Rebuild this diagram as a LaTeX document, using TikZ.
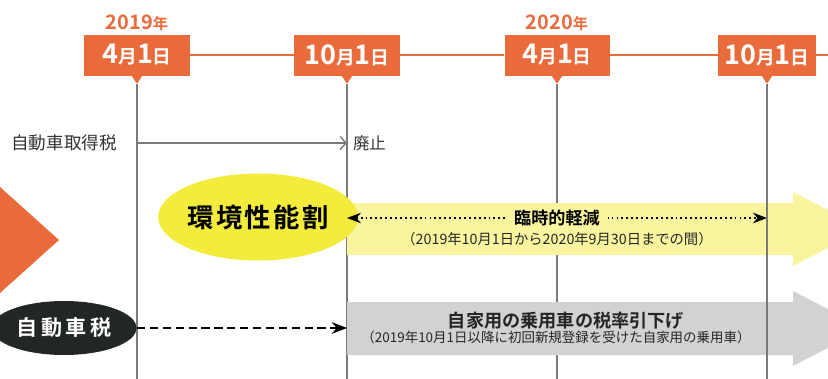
\documentclass[tikz,border=0pt]{standalone}
\usepackage{fontspec}
\setmainfont{Noto Sans CJK JP}[BoldFont={Noto Sans CJK JP Bold}]
\usepackage{xcolor}
\definecolor{taxorange}{HTML}{E96B3C}
\definecolor{ovalyellow}{HTML}{F3EC3C}
\definecolor{bandyellow}{HTML}{F9F59E}
\definecolor{bandgray}{HTML}{D2D2D2}
\definecolor{ovalblack}{HTML}{222726}
\definecolor{linegray}{HTML}{7A7A7A}
\usetikzlibrary{arrows.meta,shapes.geometric,positioning}

\newcommand{\fs}[1]{\fontsize{#1}{#1}\selectfont}
\newcommand{\mday}[2]{#1{\fs{16}月}#2{\fs{16}日}}

\begin{document}
\begin{tikzpicture}[
        x=0.03cm, y=-0.03cm,
        datebox/.style={rectangle, fill=taxorange, text=white, font=\bfseries\fs{23}, minimum width=3.15cm, minimum height=1.23cm, inner sep=0pt},
        yearlabel/.style={text=taxorange, font=\bfseries\fs{17}, inner sep=1pt},
        vline/.style={draw=linegray, line width=0.9pt},
        plain/.style={text=black!80, font=\fs{15}, inner sep=1pt},
        oval/.style={ellipse, inner sep=0pt, minimum width=5.19cm, minimum height=2.61cm},
        subnote/.style={text=black!85, font=\fs{12.2}, inner sep=1pt}
    ]
        \useasboundingbox (0,0) rectangle (828,378);
        \clip (0,0) rectangle (828,378);

        % timeline
        \node[datebox] (d1) at (137,55) {\mday{4}{1}};
        \node[datebox] (d2) at (347,55) {\mday{10}{1}};
        \node[datebox] (d3) at (557,55) {\mday{4}{1}};
        \node[datebox, minimum width=2.94cm] (d4) at (767,55) {\mday{10}{1}};
        \coordinate (lineend) at (830,55);
        \node[yearlabel, above=2pt of d1] (y1) {2019{\fs{13}年}};
        \node[yearlabel, above=2pt of d3] (y3) {2020{\fs{13}年}};

        \foreach \d in {d1,d2,d3,d4} {
            \fill[taxorange] (\d.south) ++(-6,-1) -- ++(12,0) -- ++(-6,9) -- cycle;
            \draw[vline] (\d.south) ++(0,8) -- ++(0,300);
        }

        % left marker
        \fill[taxorange] (0,187) -- (59,240) -- (0,293) -- cycle;

        % acquisition tax
        \node[plain, anchor=west] (acq) at (10,143) {自動車取得税};
        \coordinate (acqS) at (d1 |- acq);
        \coordinate (acqE) at (d2 |- acq);
        \draw[draw=linegray, line width=1.8pt, -{Straight Barb[length=5pt, width=11pt, line width=1.2pt]}] (acqS) -- (acqE);
        \node[plain, anchor=west, font=\fs{14}] (abol) at ([xshift=4]acqE) {廃止};

        % yellow band
        \fill[bandyellow] (347,203) -- (793,203) -- (793,192) -- (865,229) -- (793,266) -- (793,255) -- (347,255) -- cycle;
        \node[oval, fill=ovalyellow, font=\bfseries\fs{22.5}] (env) at (258,217) {環\hspace{2pt}境\hspace{2pt}性\hspace{2pt}能\hspace{2pt}割};
        \coordinate (tmpS) at (347,218);
        \coordinate (tmpE) at (d4 |- tmpS);
        \draw[line width=1.6pt, dash pattern=on 1.6pt off 2.6pt, {Stealth[length=12pt, width=9pt]}-{Stealth[length=12pt, width=9pt]}] (tmpS) -- (tmpE);
        \node[fill=bandyellow, font=\bfseries\fs{14.6}, inner xsep=7pt, inner ysep=3pt] (tmp) at (557,218) {臨時的軽減};
        \node[subnote] (tmpnote) at (557,239) {（2019年10月1日から2020年9月30日までの間）};

        % gray band
        \fill[bandgray] (347,302) -- (793,302) -- (793,291) -- (865,328.5) -- (793,366) -- (793,355) -- (347,355) -- cycle;
        \node[oval, fill=ovalblack, text=white, font=\bfseries\fs{18}, minimum width=4.35cm, minimum height=1.62cm] (car) at (64,328) {自\hspace{3pt}動\hspace{3pt}車\hspace{3pt}税};
        \coordinate (carS) at (d1 |- car);
        \coordinate (carE) at (d2 |- car);
        \draw[line width=1.8pt, dash pattern=on 7pt off 4pt, -{Stealth[length=13pt, width=10pt]}] (carS) -- (carE);
        \node[font=\bfseries\fs{15.5}, text=black!85, inner sep=1pt] (cut) at (566,321) {自家用の乗用車の税率引下げ};
        \node[subnote, font=\fs{11.5}] (cutnote) at (556,337) {（2019年10月1日以降に初回新規登録を受けた自家用の乗用車）};

        % orange rule and last grid line on top
        \draw[taxorange, line width=1.2pt] (d1.east) -- (d2.west) (d2.east) -- (d3.west) (d3.east) -- (d4.west) (d4.east) -- (lineend);
        \draw[vline] (d4.south) ++(0,8) -- ++(0,300);
    \end{tikzpicture}
\end{document}
